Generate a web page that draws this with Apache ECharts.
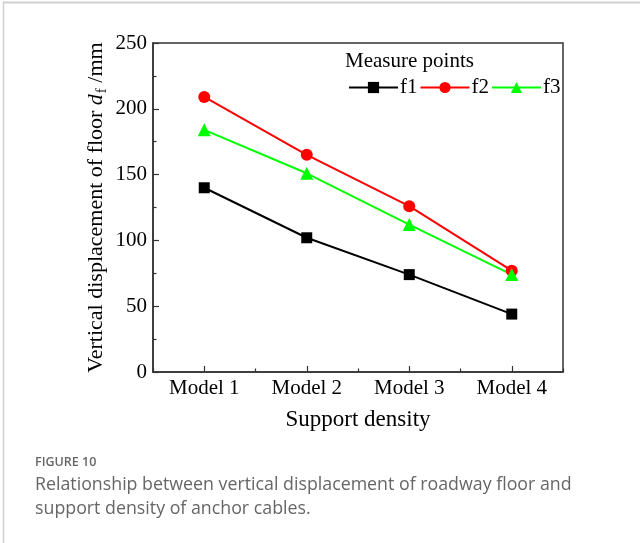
<!DOCTYPE html>
<html>
<head>
<meta charset="utf-8">
<script src="https://cdn.jsdelivr.net/npm/echarts@6/dist/echarts.min.js"></script>
<style>
html,body{margin:0;padding:0;background:#fff;}
#c{width:640px;height:543px;}
</style>
</head>
<body>
<div id="c"></div>
<script>
const categories = ['Model 1', 'Model 2', 'Model 3', 'Model 4'];
const f1 = [140, 102, 74, 44];
const f2 = [209, 165, 126, 77];
const f3 = [184, 151, 112, 74];
const yTicks = [0, 50, 100, 150, 200, 250];

const serif = 'Liberation Serif';
const chart = echarts.init(document.getElementById('c'), null, {renderer: 'canvas'});

const option = {
  animation: false,
  backgroundColor: '#fff',
  grid: {
    left: 153, top: 43, width: 410, height: 329,
    show: true, borderColor: '#333', borderWidth: 1.5, backgroundColor: 'transparent'
  },
  title: [
    {text: 'FIGURE 10', left: 30, top: 451,
     textStyle: {fontFamily: 'Open Sans', fontSize: 12.5, fontWeight: 600, color: '#666'}},
    {text: 'Relationship between vertical displacement of roadway floor and\nsupport density of anchor cables.',
     left: 30, top: 468,
     textStyle: {fontFamily: 'Open Sans', fontSize: 17.8, fontWeight: 400, color: '#666', lineHeight: 24}}
  ],
  legend: {
    left: 343, top: 72, orient: 'horizontal',
    itemWidth: 49, itemHeight: 14, itemGap: 2,
    textStyle: {fontFamily: serif, fontSize: 21, color: '#000', padding: [0, 0, 0, -3]},
    data: ['f1', 'f2', 'f3']
  },
  graphic: [
    {type: 'text', left: 345, top: 51,
     style: {text: 'Measure points', font: '21px "Liberation Serif"', fill: '#000'}},
    {type: 'line', shape: {x1: 3, y1: 2.5, x2: 640, y2: 2.5}, style: {stroke: '#d0d0d0', lineWidth: 2}},
    {type: 'line', shape: {x1: 3.5, y1: 2, x2: 3.5, y2: 543}, style: {stroke: '#d0d0d0', lineWidth: 1.5}}
  ],
  xAxis: [
    {
      type: 'category', data: categories, position: 'bottom', boundaryGap: true,
      name: 'Support density', nameLocation: 'middle', nameGap: 36,
      nameTextStyle: {fontFamily: serif, fontSize: 23, color: '#000'},
      axisLine: {show: true, lineStyle: {color: '#333', width: 1.5}},
      axisTick: {show: true, inside: true, alignWithLabel: true, length: 6, lineStyle: {color: '#333', width: 1.2}},
      axisLabel: {fontFamily: serif, fontSize: 21, color: '#000', margin: 6},
      splitLine: {show: false}
    },
    {
      type: 'category', data: categories, position: 'bottom', boundaryGap: true, gridIndex: 0,
      axisLine: {show: false},
      axisTick: {show: true, inside: true, alignWithLabel: false, length: 3.5, lineStyle: {color: '#333', width: 1.2}},
      axisLabel: {show: false},
      splitLine: {show: false}
    }
  ],
  yAxis: {
    type: 'value', min: yTicks[0], max: yTicks[yTicks.length - 1], interval: 50,
    name: '{n|Vertical displacement of floor }{d|d}{s|f}{n| /mm}',
    nameLocation: 'middle', nameRotate: 90, nameGap: 46, nameMoveOverlap: false,
    nameTextStyle: {
      rich: {
        n: {fontFamily: serif, fontSize: 22, color: '#000', lineHeight: 26, verticalAlign: 'bottom'},
        d: {fontFamily: serif, fontSize: 22, fontStyle: 'italic', color: '#000', lineHeight: 26, verticalAlign: 'bottom'},
        s: {fontFamily: serif, fontSize: 15, color: '#000', lineHeight: 26, verticalAlign: 'bottom', padding: [0, 0, -3, 1]}
      }
    },
    axisLine: {show: true, lineStyle: {color: '#333', width: 1.5}},
    axisTick: {show: true, inside: true, length: 6, lineStyle: {color: '#333', width: 1.2}},
    minorTick: {show: true, splitNumber: 2, length: 3.5, lineStyle: {color: '#333', width: 1.2}},
    axisLabel: {fontFamily: serif, fontSize: 21, color: '#000', margin: 6},
    splitLine: {show: false}
  },
  series: [
    {name: 'f1', type: 'line', data: f1, color: '#000000',
     symbol: 'rect', symbolSize: 11, lineStyle: {width: 2, color: '#000'}, itemStyle: {color: '#000'}},
    {name: 'f2', type: 'line', data: f2, color: '#ff0000',
     symbol: 'circle', symbolSize: 12, lineStyle: {width: 2, color: '#ff0000'}, itemStyle: {color: '#ff0000'}},
    {name: 'f3', type: 'line', data: f3, color: '#00ff00',
     symbol: 'triangle', symbolSize: 13, lineStyle: {width: 2, color: '#00ff00'}, itemStyle: {color: '#00ff00'}}
  ]
};
chart.setOption(option);
</script>
</body>
</html>
